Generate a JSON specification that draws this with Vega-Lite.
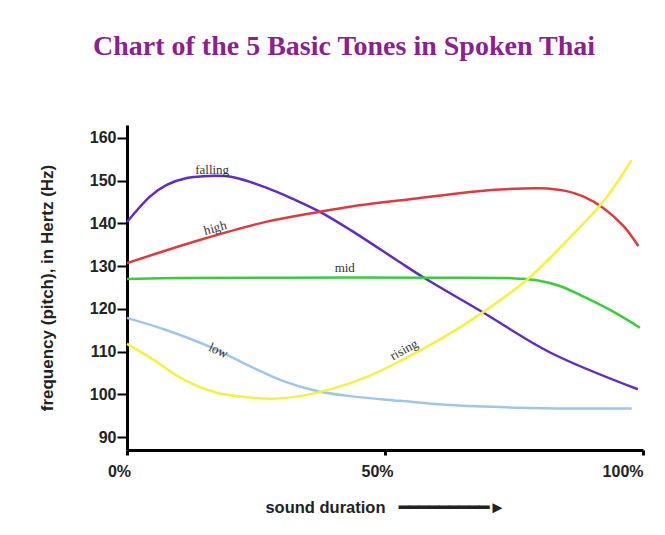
{
  "$schema": "https://vega.github.io/schema/vega-lite/v6.json",
  "width": 516,
  "height": 325,
  "autosize": "none",
  "padding": {"left": 127, "top": 125, "right": 22, "bottom": 85},
  "background": "white",
  "config": {"view": {"stroke": null}},
  "title": {
    "text": "Chart of the 5 Basic Tones in Spoken Thai",
    "font": "Liberation Serif",
    "fontSize": 28,
    "fontWeight": "bold",
    "color": "#8e1f8e",
    "anchor": "middle",
    "dx": -41,
    "offset": 64
  },
  "datasets": {
    "tones": [
      {"tone": "falling", "t": 0, "hz": 140.3},
      {"tone": "falling", "t": 4.5, "hz": 146.3},
      {"tone": "falling", "t": 7.7, "hz": 149.0},
      {"tone": "falling", "t": 11.6, "hz": 150.6},
      {"tone": "falling", "t": 16.1, "hz": 151.1},
      {"tone": "falling", "t": 20.6, "hz": 150.8},
      {"tone": "falling", "t": 27.1, "hz": 148.3},
      {"tone": "falling", "t": 32.2, "hz": 145.7},
      {"tone": "falling", "t": 37.4, "hz": 142.7},
      {"tone": "falling", "t": 43.5, "hz": 138.3},
      {"tone": "falling", "t": 52.9, "hz": 130.9},
      {"tone": "falling", "t": 57.8, "hz": 127.1},
      {"tone": "falling", "t": 69.1, "hz": 119.1},
      {"tone": "falling", "t": 82, "hz": 109.8},
      {"tone": "falling", "t": 99, "hz": 101.2},
      {"tone": "high", "t": 0, "hz": 130.7},
      {"tone": "high", "t": 14.1, "hz": 136.1},
      {"tone": "high", "t": 27.1, "hz": 140.4},
      {"tone": "high", "t": 37.4, "hz": 142.7},
      {"tone": "high", "t": 43.2, "hz": 143.9},
      {"tone": "high", "t": 50, "hz": 145.0},
      {"tone": "high", "t": 56.1, "hz": 145.8},
      {"tone": "high", "t": 64, "hz": 147.0},
      {"tone": "high", "t": 72.3, "hz": 147.9},
      {"tone": "high", "t": 80, "hz": 148.2},
      {"tone": "high", "t": 85, "hz": 147.6},
      {"tone": "high", "t": 88.4, "hz": 146.3},
      {"tone": "high", "t": 92.3, "hz": 143.6},
      {"tone": "high", "t": 96.2, "hz": 139.4},
      {"tone": "high", "t": 99.1, "hz": 134.7},
      {"tone": "mid", "t": 0, "hz": 127.0},
      {"tone": "mid", "t": 10, "hz": 127.2},
      {"tone": "mid", "t": 30, "hz": 127.3},
      {"tone": "mid", "t": 60, "hz": 127.3},
      {"tone": "mid", "t": 74, "hz": 127.2},
      {"tone": "mid", "t": 79.4, "hz": 126.7},
      {"tone": "mid", "t": 84, "hz": 125.3},
      {"tone": "mid", "t": 88.4, "hz": 122.9},
      {"tone": "mid", "t": 94.9, "hz": 118.9},
      {"tone": "mid", "t": 99.4, "hz": 115.6},
      {"tone": "low", "t": 0, "hz": 117.9},
      {"tone": "low", "t": 7.7, "hz": 115.0},
      {"tone": "low", "t": 16.1, "hz": 111.1},
      {"tone": "low", "t": 23.8, "hz": 106.6},
      {"tone": "low", "t": 30.3, "hz": 103.1},
      {"tone": "low", "t": 36.8, "hz": 100.8},
      {"tone": "low", "t": 43.2, "hz": 99.6},
      {"tone": "low", "t": 52.9, "hz": 98.5},
      {"tone": "low", "t": 62.6, "hz": 97.5},
      {"tone": "low", "t": 75.5, "hz": 96.9},
      {"tone": "low", "t": 87, "hz": 96.7},
      {"tone": "low", "t": 97.8, "hz": 96.7},
      {"tone": "rising", "t": 0, "hz": 111.8},
      {"tone": "rising", "t": 4.5, "hz": 108.6},
      {"tone": "rising", "t": 10.9, "hz": 103.5},
      {"tone": "rising", "t": 17.4, "hz": 100.4},
      {"tone": "rising", "t": 23.8, "hz": 99.3},
      {"tone": "rising", "t": 28.4, "hz": 99.0},
      {"tone": "rising", "t": 33.5, "hz": 99.6},
      {"tone": "rising", "t": 40, "hz": 101.4},
      {"tone": "rising", "t": 46.5, "hz": 104.1},
      {"tone": "rising", "t": 52.9, "hz": 107.8},
      {"tone": "rising", "t": 62, "hz": 113.8},
      {"tone": "rising", "t": 69.1, "hz": 119.3},
      {"tone": "rising", "t": 77.4, "hz": 126.7},
      {"tone": "rising", "t": 85.2, "hz": 135.9},
      {"tone": "rising", "t": 92.3, "hz": 145.1},
      {"tone": "rising", "t": 97.8, "hz": 154.8}
    ],
    "labels": [
      {"tone": "falling", "t": 16.5, "hz": 152.5},
      {"tone": "high", "t": 17.1, "hz": 138.9},
      {"tone": "mid", "t": 42.2, "hz": 129.6},
      {"tone": "low", "t": 17.7, "hz": 110.2},
      {"tone": "rising", "t": 53.7, "hz": 110.4}
    ]
  },
  "layer": [
    {
      "data": {"name": "tones"},
      "mark": {"type": "line", "interpolate": "catmull-rom", "strokeWidth": 2.5},
      "encoding": {
        "x": {
          "field": "t", "type": "quantitative",
          "scale": {"domain": [0, 100], "nice": false},
          "axis": {
            "values": [0, 50, 100],
            "labelExpr": "datum.value + '%'",
            "grid": false,
            "domainColor": "black", "domainWidth": 3,
            "tickColor": "black", "tickWidth": 3, "tickSize": 5,
            "labelFont": "Liberation Sans", "labelFontWeight": "bold", "labelFontSize": 16, "labelColor": "#222",
            "labelPadding": 8,
            "labelFlush": false,
            "labelAlign": {"condition": {"test": "datum.value == 100", "value": "right"}, "value": "center"},
            "labelOffset": {"condition": {"test": "datum.value == 100", "value": 0}, "value": -8},
            "title": "sound duration\u00a0\u00a0\u00a0━━━━━━━━━►",
            "titleFont": "Liberation Sans", "titleFontWeight": "bold", "titleFontSize": 16.5, "titleColor": "#222",
            "titlePadding": 20
          }
        },
        "y": {
          "field": "hz", "type": "quantitative",
          "scale": {"domain": [87, 163], "nice": false, "zero": false},
          "axis": {
            "values": [90, 100, 110, 120, 130, 140, 150, 160],
            "grid": false,
            "domainColor": "black", "domainWidth": 3,
            "tickColor": "black", "tickWidth": 2, "tickSize": 10,
            "labelFont": "Liberation Sans", "labelFontWeight": "bold", "labelFontSize": 16, "labelColor": "#222",
            "labelPadding": 1,
            "title": "frequency (pitch), in Hertz (Hz)",
            "titleFont": "Liberation Sans", "titleFontWeight": "bold", "titleFontSize": 17, "titleColor": "#222",
            "titlePadding": 33
          }
        },
        "color": {
          "field": "tone", "type": "nominal",
          "scale": {
            "domain": ["falling", "high", "mid", "low", "rising"],
            "range": ["#5f2ccb", "#e03a3e", "#3acd3a", "#9fc6ea", "#f3f33e"]
          },
          "legend": null
        }
      }
    },
    {
      "data": {"name": "labels"},
      "transform": [{"filter": "datum.tone == 'falling' || datum.tone == 'mid'"}],
      "mark": {"type": "text", "font": "Liberation Serif", "fontSize": 13, "color": "#333"},
      "encoding": {
        "x": {"field": "t", "type": "quantitative"},
        "y": {"field": "hz", "type": "quantitative"},
        "text": {"field": "tone"}
      }
    },
    {
      "data": {"name": "labels"},
      "transform": [{"filter": "datum.tone == 'high'"}],
      "mark": {"type": "text", "font": "Liberation Serif", "fontSize": 13, "color": "#333", "angle": -15},
      "encoding": {
        "x": {"field": "t", "type": "quantitative"},
        "y": {"field": "hz", "type": "quantitative"},
        "text": {"field": "tone"}
      }
    },
    {
      "data": {"name": "labels"},
      "transform": [{"filter": "datum.tone == 'low'"}],
      "mark": {"type": "text", "font": "Liberation Serif", "fontSize": 13, "color": "#333", "angle": 25},
      "encoding": {
        "x": {"field": "t", "type": "quantitative"},
        "y": {"field": "hz", "type": "quantitative"},
        "text": {"field": "tone"}
      }
    },
    {
      "data": {"name": "labels"},
      "transform": [{"filter": "datum.tone == 'rising'"}],
      "mark": {"type": "text", "font": "Liberation Serif", "fontSize": 13, "color": "#333", "angle": -29},
      "encoding": {
        "x": {"field": "t", "type": "quantitative"},
        "y": {"field": "hz", "type": "quantitative"},
        "text": {"field": "tone"}
      }
    }
  ]
}
